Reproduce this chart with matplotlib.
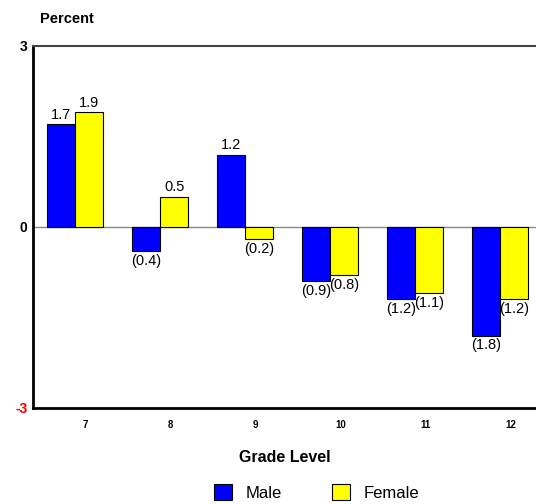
import numpy as np
import matplotlib.pyplot as plt

plt.rcParams['font.family'] = ['Liberation Sans', 'DejaVu Sans']

grades = ["7", "8", "9", "10", "11", "12"]
male = [1.7, -0.4, 1.2, -0.9, -1.2, -1.8]
female = [1.9, 0.5, -0.2, -0.8, -1.1, -1.2]


def fmt(v):
    # negatives shown in parentheses, accounting style
    return f"{v:.1f}" if v >= 0 else f"({abs(v):.1f})"


fig = plt.figure(figsize=(5.36, 5.04), dpi=100)
ax = fig.add_axes([0.0616, 0.1905, 0.9384, 0.7183])

x = np.arange(len(grades))
w = 0.33
bm = ax.bar(x - w / 2, male, w, color="#0000ff", edgecolor="black", linewidth=0.8, label="Male", zorder=3)
bf = ax.bar(x + w / 2, female, w, color="#ffff00", edgecolor="black", linewidth=0.8, label="Female", zorder=3)

for bars, vals in [(bm, male), (bf, female)]:
    for b, v in zip(bars, vals):
        cx = b.get_x() + b.get_width() / 2
        if v >= 0:
            ax.annotate(fmt(v), (cx, v), xytext=(0, 2), textcoords="offset points",
                        ha="center", va="bottom", fontsize=10.5)
        else:
            ax.annotate(fmt(v), (cx, v), xytext=(0, -2), textcoords="offset points",
                        ha="center", va="top", fontsize=10.5)

ax.axhline(0, color="#888888", linewidth=1, zorder=2)

ax.set_xlim(-0.494, 5.42)
ax.set_ylim(-3, 3)
ax.set_xticks(x + 0.12)
ax.set_xticklabels(grades, fontsize=7, fontweight="bold")
ax.tick_params(axis="x", length=0, pad=9)
ax.set_yticks([-3, 0, 3])
ax.set_yticklabels(["-3", "0", "3"], fontsize=10, fontweight="bold")
ax.get_yticklabels()[0].set_color("red")
ax.tick_params(axis="y", length=0, pad=4)

ax.spines["right"].set_visible(False)
ax.spines["left"].set_linewidth(2)
ax.spines["bottom"].set_linewidth(2)
ax.spines["top"].set_linewidth(1.5)
ax.spines["top"].set_color("#444444")

fig.text(0.075, 0.962, "Percent", fontsize=10.5, fontweight="bold", ha="left", va="center")
ax.set_xlabel("Grade Level", fontsize=11.5, fontweight="bold", labelpad=14)

fig.legend(handles=[bm, bf], labels=["Male", "Female"], loc="center", bbox_to_anchor=(0.59, 0.023),
           ncol=2, frameon=False, fontsize=12, handlelength=1.1, handleheight=1.1,
           columnspacing=3.0, handletextpad=0.8)

fig.savefig("out.png", dpi=100, facecolor="white")
